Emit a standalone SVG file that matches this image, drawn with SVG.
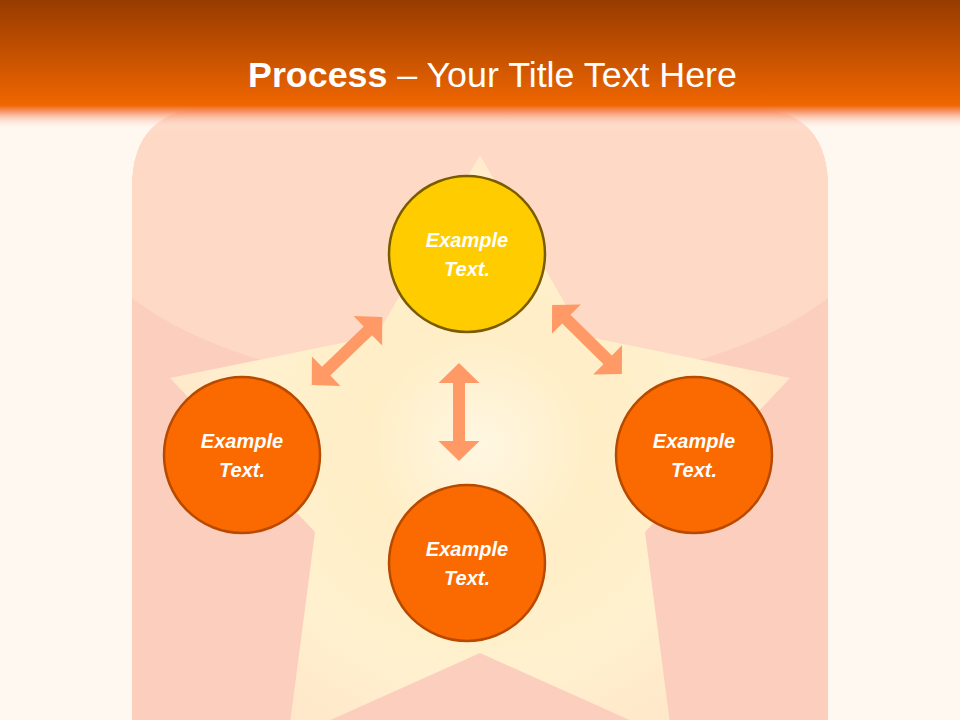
<svg xmlns="http://www.w3.org/2000/svg" width="960" height="720" viewBox="0 0 960 720">
  <defs>
    <linearGradient id="hdr" x1="0" y1="0" x2="0" y2="1">
      <stop offset="0" stop-color="#973B00"/>
      <stop offset="0.81" stop-color="#F06600"/>
      <stop offset="0.86" stop-color="#F5875A" stop-opacity="0.85"/>
      <stop offset="1" stop-color="#FFFFFF" stop-opacity="0"/>
    </linearGradient>
    <radialGradient id="starG" cx="480" cy="445" r="330" gradientUnits="userSpaceOnUse">
      <stop offset="0" stop-color="#FFF7E2"/>
      <stop offset="0.35" stop-color="#FFEEC6"/>
      <stop offset="0.7" stop-color="#FFF1CF"/>
      <stop offset="1" stop-color="#FFE7CA"/>
    </radialGradient>
    <clipPath id="panelClip">
      <path d="M132 188 Q132 108 212 108 L748 108 Q828 108 828 188 L828 720 L132 720 Z"/>
    </clipPath>
    <path id="dblArrow" d="M-49 0 L-29 -20.5 L-29 -6 L29 -6 L29 -20.5 L49 0 L29 20.5 L29 6 L-29 6 L-29 20.5 Z"/>
  </defs>
  <style>
    .arrow { fill: #FF9966; }
    .node-y { fill: #FFCC00; stroke: #7A5C00; stroke-width: 2.5; }
    .node-o { fill: #FA6A00; stroke: #B84A00; stroke-width: 2.5; }
    .lbl { font-family: "Liberation Sans", Arial, sans-serif; font-size: 20px; font-weight: bold; font-style: italic; fill: #FFFFFF; text-anchor: middle; }
  </style>

  <rect x="0" y="0" width="960" height="720" fill="#FFF8F1"/>

  <g id="panel" clip-path="url(#panelClip)">
    <rect x="132" y="108" width="696" height="612" fill="#FCCEBE"/>
    <ellipse cx="480" cy="195" rx="410" ry="195" fill="#FED9C6"/>
  </g>

  <polygon id="star" fill="url(#starG)" points="480,155 583.5,336 790,378 645,532 672,739 480,653 288,739 315,532 170,378 376.5,336"/>

  <rect id="header" x="0" y="0" width="960" height="130" fill="url(#hdr)"/>
  <text id="title" x="492.5" y="87" font-family="Liberation Sans, Arial, sans-serif" font-size="35.8" fill="#FFFFFF" text-anchor="middle"><tspan font-weight="bold">Process</tspan> – Your Title Text Here</text>

  <g id="connectors">
    <use href="#dblArrow" class="arrow" transform="translate(347,351) rotate(-44)"/>
    <use href="#dblArrow" class="arrow" transform="translate(587,339.5) rotate(44.6)"/>
    <use href="#dblArrow" class="arrow" transform="translate(459,412) rotate(90)"/>
  </g>

  <g id="node-top">
    <circle class="node-y" cx="467" cy="254" r="78"/>
    <text class="lbl" x="467" y="247">Example</text>
    <text class="lbl" x="467" y="276">Text.</text>
  </g>
  <g id="node-left">
    <circle class="node-o" cx="242" cy="455" r="78"/>
    <text class="lbl" x="242" y="448">Example</text>
    <text class="lbl" x="242" y="477">Text.</text>
  </g>
  <g id="node-right">
    <circle class="node-o" cx="694" cy="455" r="78"/>
    <text class="lbl" x="694" y="448">Example</text>
    <text class="lbl" x="694" y="477">Text.</text>
  </g>
  <g id="node-bottom">
    <circle class="node-o" cx="467" cy="563" r="78"/>
    <text class="lbl" x="467" y="556">Example</text>
    <text class="lbl" x="467" y="585">Text.</text>
  </g>
</svg>
